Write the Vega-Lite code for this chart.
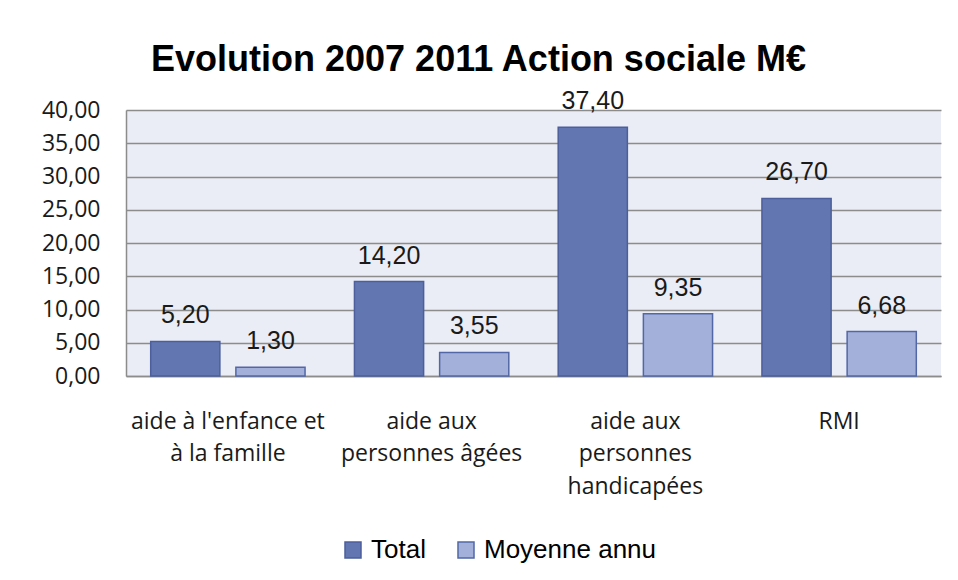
{
  "$schema": "https://vega.github.io/schema/vega-lite/v6.json",
  "width": 815,
  "height": 266,
  "autosize": {"type": "none"},
  "padding": {"left": 126, "top": 110, "right": 17, "bottom": 204},
  "background": "white",
  "config": {
    "locale": {"number": {"decimal": ",", "thousands": " ", "grouping": [3], "currency": ["", " €"]}},
    "view": {"fill": "#EAEDF5", "stroke": null}
  },
  "title": {
    "text": "Evolution 2007 2011 Action sociale M€",
    "font": "Liberation Sans",
    "fontSize": 36,
    "fontWeight": "bold",
    "color": "#000000",
    "anchor": "middle",
    "dx": -55,
    "dy": 59,
    "offset": 41,
    "baseline": "alphabetic"
  },
  "data": {
    "values": [
      {"categorie": "aide à l'enfance et\nà la famille", "serie": "Total", "valeur": 5.20},
      {"categorie": "aide à l'enfance et\nà la famille", "serie": "Moyenne annu", "valeur": 1.30},
      {"categorie": "aide aux\npersonnes âgées", "serie": "Total", "valeur": 14.20},
      {"categorie": "aide aux\npersonnes âgées", "serie": "Moyenne annu", "valeur": 3.55},
      {"categorie": "aide aux\npersonnes\nhandicapées", "serie": "Total", "valeur": 37.40},
      {"categorie": "aide aux\npersonnes\nhandicapées", "serie": "Moyenne annu", "valeur": 9.35},
      {"categorie": "RMI", "serie": "Total", "valeur": 26.70},
      {"categorie": "RMI", "serie": "Moyenne annu", "valeur": 6.68}
    ]
  },
  "encoding": {
    "x": {
      "field": "categorie",
      "type": "nominal",
      "sort": null,
      "scale": {"paddingInner": 0, "paddingOuter": 0},
      "axis": {
        "title": null,
        "labelAngle": 0,
        "labelExpr": "split(datum.label, '\\n')",
        "labelFont": "Open Sans",
        "labelFontSize": 23,
        "labelColor": "#1a1a1a",
        "labelLineHeight": 32.5,
        "labelPadding": 34,
        "labelBaseline": "top",
        "labelLimit": 0,
        "ticks": false,
        "domain": true,
        "domainColor": "#8c8c8c",
        "domainWidth": 1.5,
        "grid": false
      }
    },
    "xOffset": {
      "field": "serie",
      "type": "nominal",
      "sort": ["Total", "Moyenne annu"],
      "scale": {"paddingInner": 0.188, "paddingOuter": 0.29}
    },
    "y": {
      "field": "valeur",
      "type": "quantitative",
      "scale": {"domain": [0, 40], "nice": false},
      "axis": {
        "title": null,
        "values": [0, 5, 10, 15, 20, 25, 30, 35, 40],
        "format": ".2f",
        "labelFont": "Open Sans",
        "labelFontSize": 23,
        "labelColor": "#1a1a1a",
        "labelPadding": 26,
        "ticks": false,
        "domain": true,
        "domainColor": "#8c8c8c",
        "domainWidth": 1.5,
        "grid": true,
        "gridColor": "#8c8c8c",
        "gridWidth": 1.5
      }
    }
  },
  "layer": [
    {
      "mark": {"type": "bar", "strokeWidth": 1.5},
      "encoding": {
        "color": {
          "field": "serie",
          "type": "nominal",
          "scale": {"domain": ["Total", "Moyenne annu"], "range": ["#6277B1", "#A3B0DA"]},
          "legend": {
            "title": null,
            "orient": "none",
            "legendX": 214,
            "legendY": 427,
            "direction": "horizontal",
            "symbolType": "square",
            "symbolSize": 256,
            "symbolStrokeColor": "#4E62A0",
            "symbolStrokeWidth": 1.5,
            "labelFont": "Liberation Sans",
            "labelFontSize": 26,
            "labelColor": "#000000",
            "labelOffset": 5,
            "columnPadding": 27,
            "labelLimit": 0
          }
        },
        "stroke": {
          "field": "serie",
          "type": "nominal",
          "scale": {"domain": ["Total", "Moyenne annu"], "range": ["#4C5F9C", "#5267A6"]},
          "legend": null
        }
      }
    },
    {
      "mark": {
        "type": "text",
        "font": "Liberation Sans",
        "fontSize": 25,
        "color": "#1a1a1a",
        "baseline": "alphabetic",
        "dy": -18
      },
      "encoding": {
        "text": {"field": "valeur", "type": "quantitative", "format": ".2f"}
      }
    }
  ]
}
